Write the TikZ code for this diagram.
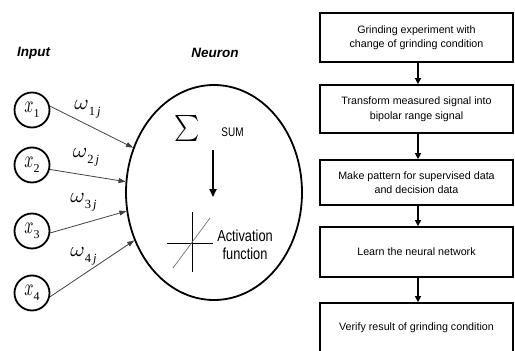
\documentclass[tikz,border=0pt]{standalone}
\usepackage{fontspec}
\usepackage{graphicx}
\setmainfont{Liberation Sans}
\newfontfamily\narrowfont[FakeStretch=0.8]{Liberation Sans}
\newfontfamily\serifit{Liberation Serif}
\usetikzlibrary{shapes.geometric,arrows.meta}
\newcommand\inplabel[1]{\scalebox{1.6}[2.4]{$x$}\raisebox{-5pt}{\fontsize{12}{12}\selectfont\serifit #1}}
\newcommand\wlabel[1]{\scalebox{2.2}[2.1]{$\omega$}\raisebox{-6pt}{\fontsize{12.5}{12.5}\selectfont\serifit #1\,\itshape j}}
\begin{document}
\begin{tikzpicture}[x=1pt,y=-1pt,
  inp/.style={circle,draw,line width=1.8pt,minimum size=35pt,inner sep=0pt},
  wlab/.style={inner sep=0pt},
  title/.style={inner sep=0pt,font=\fontsize{13.5}{14}\selectfont\bfseries\itshape},
  flowbox/.style={draw,line width=1.8pt,minimum width=193pt,inner sep=0pt,align=center,font=\fontsize{10.7}{14.5}\selectfont},
  flowarrow/.style={line width=1.6pt,-{Triangle[length=6pt,width=6pt]}},
  inarrow/.style={line width=0.8pt,draw=black!75,-{Triangle[length=7pt,width=5pt]}},
  thinline/.style={line width=0.9pt},
]
\clip (0,0) rectangle (515,351);

% titles
\node[title] (tin) at (33.5,53) {Input};
\node[title] (tneu) at (215,53) {Neuron};

% inputs
\node[inp] (x1) at (32,110) {\inplabel{1}};
\node[inp] (x2) at (32,165) {\inplabel{2}};
\node[inp] (x3) at (32,231) {\inplabel{3}};
\node[inp] (x4) at (32,293) {\inplabel{4}};

% neuron
\node[ellipse,draw,line width=1.8pt,minimum width=176pt,minimum height=215pt,inner sep=0pt] (N) at (214,192.5) {};

\draw[inarrow] (x1.12) -- (N.151.8);
\draw[inarrow] (x2.-14) -- (N.173.3);
\draw[inarrow] (x3.-6) -- (N.192.4);
\draw[inarrow] (x4.-12) -- (N.211.6);

% weights
\node[wlab] (w1) at (87.5,109) {\wlabel{1}};
\node[wlab] (w2) at (86,157) {\wlabel{2}};
\node[wlab] (w3) at (83.5,202) {\wlabel{3}};
\node[wlab] (w4) at (83.5,256) {\wlabel{4}};

% sum
\node[inner sep=0pt] (sig) at (187,128.5) {\scalebox{2.4}[2.6]{$\sum$}};
\node[inner sep=0pt,font=\narrowfont\fontsize{12.5}{13}\selectfont] (sum) at (232.5,132.5) {SUM};
\coordinate (da) at (213,150);
\coordinate (db) at (213,197);
\draw[line width=1.8pt,-{Triangle[length=8pt,width=7pt]}] (da) -- (db);

% activation symbol
\coordinate (act) at (192,243);
\draw[thinline] (act) ++(-25,0) -- ++(46,0);
\draw[thinline] (act) ++(0,-31) -- ++(0,60);
\draw[line width=0.7pt,black!55] (173,268) -- (210,218);
\node[inner sep=0pt,align=center,font=\narrowfont\fontsize{16}{18}\selectfont] (actxt) at (245,245) {Activation\\function};

% flowchart
\node[flowbox,minimum height=49pt] (b1) at (416.5,37.5) {Grinding experiment with\\change of grinding condition};
\node[flowbox,minimum height=48pt] (b2) at (416.5,109) {Transform measured signal into\\bipolar range signal};
\node[flowbox,minimum height=45pt] (b3) at (416.5,182.5) {Make pattern for supervised data\\and decision data};
\node[flowbox,minimum height=50pt] (b4) at (416.5,252) {Learn the neural network};
\node[flowbox,minimum height=50pt] (b5) at (416.5,328) {Verify result of grinding condition};

\draw[flowarrow] ([xshift=1.5pt]b1.south) -- ([xshift=1.5pt]b2.north);
\draw[flowarrow] ([xshift=1.5pt]b2.south) -- ([xshift=1.5pt]b3.north);
\draw[flowarrow] ([xshift=1.5pt]b3.south) -- ([xshift=1.5pt]b4.north);
\draw[flowarrow] ([xshift=1.5pt]b4.south) -- ([xshift=1.5pt]b5.north);
\end{tikzpicture}
\end{document}
